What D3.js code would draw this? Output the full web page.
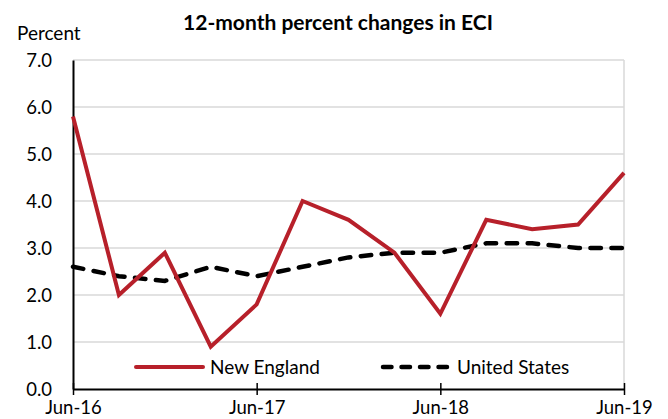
<!DOCTYPE html>
<html>
<head>
<meta charset="utf-8">
<script src="https://cdn.jsdelivr.net/npm/d3@7"></script>
<style>
  body { margin: 0; background: #fff; }
  text { font-family: Lato, "Open Sans", sans-serif; fill: #000; }
</style>
</head>
<body>
<div id="main"></div>
<script>
// Chart size
var svgWidth = 668;
var svgHeight = 419;
var margin = {t: 60, r: 44, b: 30, l: 73};

// Data (quarterly, Jun-16 to Jun-19)
var quarters = ['Jun-16', 'Sep-16', 'Dec-16', 'Mar-17', 'Jun-17', 'Sep-17', 'Dec-17',
                'Mar-18', 'Jun-18', 'Sep-18', 'Dec-18', 'Mar-19', 'Jun-19'];
var newEngland = [5.8, 2.0, 2.9, 0.9, 1.8, 4.0, 3.6, 2.9, 1.6, 3.6, 3.4, 3.5, 4.6];
var unitedStates = [2.6, 2.4, 2.3, 2.6, 2.4, 2.6, 2.8, 2.9, 2.9, 3.1, 3.1, 3.0, 3.0];
var xTickLabels = ['Jun-16', 'Jun-17', 'Jun-18', 'Jun-19'];
var yTicks = [0, 1, 2, 3, 4, 5, 6, 7];

var plotW = svgWidth - margin.l - margin.r;
var plotH = svgHeight - margin.t - margin.b;

var svg = d3.select('#main')
  .append('svg')
  .attr('width', svgWidth)
  .attr('height', svgHeight);

var x = d3.scalePoint().domain(quarters).range([0, plotW]);
var y = d3.scaleLinear().domain([0, 7]).range([plotH, 0]);

var g = svg.append('g')
  .attr('transform', `translate(${margin.l}, ${margin.t})`);

// gridlines
g.selectAll('.grid')
  .data(yTicks.slice(1))
  .enter()
  .append('line')
  .attr('x1', 0).attr('x2', plotW)
  .attr('y1', function(d) { return y(d); })
  .attr('y2', function(d) { return y(d); })
  .attr('stroke', '#d9d9d9')
  .attr('stroke-width', 1.5);

// right border
g.append('line')
  .attr('x1', plotW).attr('x2', plotW)
  .attr('y1', 0).attr('y2', plotH)
  .attr('stroke', '#d9d9d9')
  .attr('stroke-width', 1.5);

// y axis
var yAxis = d3.axisLeft(y).tickValues(yTicks).tickSize(0).tickPadding(21)
  .tickFormat(d3.format('.1f'));
var yG = g.append('g').call(yAxis);
yG.select('.domain').attr('stroke', '#000').attr('stroke-width', 2);
yG.selectAll('text').style('font-size', '18.5px').attr('dy', '0.35em');

// x axis - ticks cross the axis line
var xAxis = d3.axisBottom(x).tickValues(xTickLabels).tickSize(6).tickSizeOuter(0).tickPadding(6);
var xG = g.append('g')
  .attr('transform', `translate(0, ${plotH})`)
  .call(xAxis);
xG.select('.domain').attr('stroke', '#000').attr('stroke-width', 2);
xG.selectAll('.tick line').attr('y1', -6).attr('stroke', '#000').attr('stroke-width', 1.5);
xG.selectAll('text').style('font-size', '18.5px');

// lines
var line = d3.line()
  .x(function(d, i) { return x(quarters[i]); })
  .y(function(d) { return y(d); });

g.append('path')
  .datum(unitedStates)
  .attr('d', line)
  .attr('fill', 'none')
  .attr('stroke', '#000')
  .attr('stroke-width', 4.5)
  .attr('stroke-dasharray', '10.5,10.5')
  .attr('stroke-linecap', 'round');

g.append('path')
  .datum(newEngland)
  .attr('d', line)
  .attr('fill', 'none')
  .attr('stroke', '#b7202a')
  .attr('stroke-width', 4)
  .attr('stroke-linejoin', 'miter');

// legend
var legend = svg.append('g').attr('transform', 'translate(0, 367)');
legend.append('line')
  .attr('x1', 136).attr('x2', 203).attr('y1', 0).attr('y2', 0)
  .attr('stroke', '#b7202a').attr('stroke-width', 4).attr('stroke-linecap', 'round');
legend.append('text')
  .attr('x', 210).attr('y', 0).attr('dy', '0.35em')
  .style('font-size', '19px')
  .text('New England');
legend.append('line')
  .attr('x1', 383).attr('x2', 449).attr('y1', 0).attr('y2', 0)
  .attr('stroke', '#000').attr('stroke-width', 4.5)
  .attr('stroke-dasharray', '8.5,10').attr('stroke-linecap', 'round');
legend.append('text')
  .attr('x', 457).attr('y', 0).attr('dy', '0.35em')
  .style('font-size', '19px')
  .text('United States');

// title
svg.append('text')
  .attr('x', 338).attr('y', 30)
  .attr('text-anchor', 'middle')
  .style('font-size', '21px')
  .style('font-weight', 'bold')
  .text('12-month percent changes in ECI');

// y label
svg.append('text')
  .attr('x', 17).attr('y', 40)
  .style('font-size', '19px')
  .text('Percent');
</script>
</body>
</html>
